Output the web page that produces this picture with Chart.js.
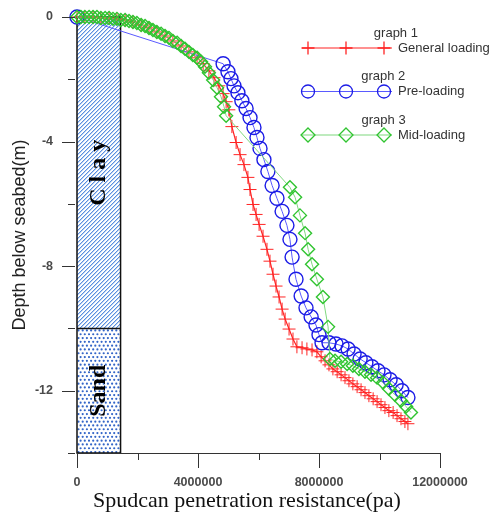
<!DOCTYPE html>
<html>
<head>
<meta charset="utf-8">
<script src="https://cdn.jsdelivr.net/npm/chart.js@4.4.0/dist/chart.umd.min.js"></script>
<style>
  html, body { margin: 0; padding: 0; background: #fff; }
  #wrap { position: relative; width: 493px; height: 512px; }
</style>
</head>
<body>
<div id="wrap"><canvas id="chart" width="493" height="512"></canvas></div>
<script>
// graph 1 - General loading (x: resistance in Pa, y: depth in m)
const generalX = [0, 260000, 530000, 790000, 1060000, 1320000, 1590000, 1850000, 2120000, 2380000,
  2640000, 2910000, 3170000, 3440000, 3700000, 3970000, 4170000, 4360000, 4530000, 4690000,
  4830000, 4930000, 5020000, 5120000, 5260000, 5390000, 5520000, 5650000, 5720000, 5820000,
  5920000, 6020000, 6150000, 6280000, 6380000, 6480000, 6580000, 6680000, 6780000, 6880000,
  7010000, 7140000, 7270000, 7440000, 7600000, 7770000, 7930000, 8070000, 8200000, 8330000,
  8460000, 8600000, 8730000, 8860000, 8990000, 9120000, 9260000, 9390000, 9520000, 9650000,
  9790000, 9920000, 10050000, 10180000, 10310000, 10450000, 10580000, 10710000, 10840000, 10940000];
const generalY = [0, 0, 0, -0.03, -0.03, -0.06, -0.10, -0.16, -0.26, -0.35,
  -0.48, -0.61, -0.77, -0.93, -1.12, -1.31, -1.50, -1.73, -1.95, -2.21,
  -2.46, -2.72, -2.98, -3.52, -4.03, -4.42, -4.74, -5.15, -5.54, -6.02,
  -6.34, -6.66, -7.04, -7.46, -7.84, -8.26, -8.64, -8.99, -9.38, -9.70,
  -10.02, -10.34, -10.59, -10.62, -10.66, -10.69, -10.75, -10.91, -11.04, -11.17,
  -11.30, -11.39, -11.49, -11.58, -11.68, -11.78, -11.87, -11.97, -12.06, -12.16,
  -12.26, -12.35, -12.45, -12.54, -12.64, -12.70, -12.80, -12.90, -12.99, -13.06];

// graph 2 - Pre-loading
const preX = [0, 4830000, 4990000, 5090000, 5190000, 5320000, 5450000, 5590000, 5720000, 5850000,
  5950000, 6050000, 6180000, 6310000, 6450000, 6610000, 6780000, 6940000, 7040000, 7110000,
  7240000, 7410000, 7570000, 7740000, 7900000, 8000000, 8100000, 8330000, 8560000, 8760000,
  8960000, 9160000, 9360000, 9550000, 9750000, 9950000, 10150000, 10350000, 10550000, 10740000, 10940000];
const preY = [0, -1.50, -1.76, -1.98, -2.21, -2.43, -2.69, -2.94, -3.23, -3.55,
  -3.87, -4.22, -4.58, -4.96, -5.41, -5.82, -6.24, -6.69, -7.14, -7.71,
  -8.42, -8.96, -9.34, -9.63, -9.89, -10.20, -10.46, -10.46, -10.50, -10.56,
  -10.66, -10.82, -10.98, -11.10, -11.23, -11.36, -11.49, -11.65, -11.81, -12.00, -12.22];

// graph 3 - Mid-loading
const midX = [0, 130000, 260000, 400000, 530000, 660000, 790000, 930000, 1060000, 1190000,
  1320000, 1450000, 1590000, 1720000, 1850000, 1980000, 2120000, 2250000, 2380000, 2510000,
  2640000, 2780000, 2910000, 3040000, 3170000, 3310000, 3440000, 3570000, 3700000, 3830000,
  3970000, 4100000, 4230000, 4360000, 4500000, 4630000, 4760000, 4860000, 4930000, 7040000,
  7210000, 7370000, 7540000, 7640000, 7770000, 7930000, 8130000, 8300000, 8360000, 8530000,
  8730000, 8930000, 9120000, 9320000, 9520000, 9720000, 9920000, 10120000, 10310000, 10510000,
  10710000, 10880000, 11040000];
const midY = [0, 0, 0, 0, 0, 0, -0.03, -0.03, -0.03, -0.06,
  -0.06, -0.10, -0.10, -0.13, -0.16, -0.19, -0.26, -0.29, -0.35, -0.42,
  -0.48, -0.54, -0.61, -0.67, -0.77, -0.83, -0.93, -1.02, -1.12, -1.22,
  -1.31, -1.44, -1.60, -1.79, -2.02, -2.27, -2.56, -2.88, -3.17, -5.47,
  -5.79, -6.37, -6.94, -7.46, -7.94, -8.42, -8.99, -9.95, -10.98, -11.04,
  -11.07, -11.14, -11.20, -11.30, -11.39, -11.49, -11.58, -11.74, -11.94, -12.13,
  -12.32, -12.51, -12.70];

// soil column
const soilWidth = 1440000;
const layerNames = ["C l a y", "Sand"];
const layerTop = [0, -10];
const layerBottom = [-10, -14];
const layerLabelDepth = [-5, -12];

// legend
const legendTitles = ["graph 1", "graph 2", "graph 3"];
const legendLabels = ["General loading", "Pre-loading", "Mid-loading"];

const RED = "#ff2424", BLUE = "#1c1ce6", GREEN = "#30c430";

const toPts = (xs, ys) => xs.map((v, i) => ({ x: v, y: ys[i] }));

function marker(ctx, style, x, y, r) {
  ctx.beginPath();
  if (style === "circle") {
    ctx.arc(x, y, r, 0, Math.PI * 2);
  } else if (style === "rectRot") {
    ctx.moveTo(x, y - r); ctx.lineTo(x + r, y); ctx.lineTo(x, y + r); ctx.lineTo(x - r, y); ctx.closePath();
  } else {
    ctx.moveTo(x - r, y); ctx.lineTo(x + r, y); ctx.moveTo(x, y - r); ctx.lineTo(x, y + r);
  }
  ctx.stroke();
}

// 4x4 tile with a soft "/" diagonal for the clay hatching
function hatchPattern(ctx) {
  const c = document.createElement("canvas");
  c.width = 4; c.height = 4;
  const g = c.getContext("2d");
  g.fillStyle = "#fff"; g.fillRect(0, 0, 4, 4);
  for (let i = 0; i < 4; i++) {
    g.fillStyle = "#5a8fe0"; g.fillRect(i, 3 - i, 1, 1);
    g.fillStyle = "#bcd2f2"; g.fillRect(i, (4 - i) % 4, 1, 1);
  }
  return ctx.createPattern(c, "repeat");
}

const soilPlugin = {
  id: "soil",
  beforeDatasetsDraw(chart) {
    const { ctx, scales: { x, y } } = chart;
    const l = x.getPixelForValue(0), r = x.getPixelForValue(soilWidth);
    ctx.save();
    // clay - hatched
    let t = y.getPixelForValue(layerTop[0]), b = y.getPixelForValue(layerBottom[0]);
    ctx.fillStyle = hatchPattern(ctx);
    ctx.fillRect(l, t, r - l, b - t);
    // sand - dotted
    t = y.getPixelForValue(layerTop[1]); b = y.getPixelForValue(layerBottom[1]);
    ctx.save();
    ctx.beginPath(); ctx.rect(l, t, r - l, b - t); ctx.clip();
    ctx.fillStyle = "#fff"; ctx.fillRect(l, t, r - l, b - t);
    ctx.fillStyle = "#3466c8";
    ctx.beginPath();
    let row = 0;
    for (let yy = t + 2; yy < b + 2; yy += 3.8, row++) {
      for (let xx = l + 1.5 + (row % 2) * 2.1; xx < r + 2; xx += 4.2) {
        ctx.moveTo(xx + 1.1, yy); ctx.arc(xx, yy, 1.1, 0, Math.PI * 2);
      }
    }
    ctx.fill();
    ctx.restore();
    // borders
    ctx.strokeStyle = "#111"; ctx.lineWidth = 1.5;
    const top = y.getPixelForValue(layerTop[0]), bot = y.getPixelForValue(layerBottom[1]);
    ctx.strokeRect(l, top, r - l, bot - top);
    ctx.beginPath();
    ctx.moveTo(l, y.getPixelForValue(layerTop[1])); ctx.lineTo(r, y.getPixelForValue(layerTop[1]));
    ctx.stroke();
    // layer names
    ctx.fillStyle = "#000";
    ctx.font = "bold 24px 'Liberation Serif', 'Times New Roman', serif";
    ctx.textAlign = "center"; ctx.textBaseline = "middle";
    layerNames.forEach((name, i) => {
      ctx.save();
      ctx.translate((l + r) / 2, y.getPixelForValue(layerLabelDepth[i]));
      ctx.rotate(-Math.PI / 2);
      ctx.fillText(name, 0, 0);
      ctx.restore();
    });
    ctx.restore();
  },
  afterDraw(chart) {
    const { ctx, chartArea: ca, scales: { x, y } } = chart;
    ctx.save();
    ctx.strokeStyle = "#333"; ctx.lineWidth = 1;
    // x axis line and ticks
    ctx.beginPath();
    ctx.moveTo(ca.left, ca.bottom + 0.5); ctx.lineTo(ca.right, ca.bottom + 0.5);
    x.ticks.forEach(tk => {
      const px = Math.round(x.getPixelForValue(tk.value)) + 0.5;
      const len = tk.value % 4000000 === 0 ? 15 : 7;
      ctx.moveTo(px, ca.bottom); ctx.lineTo(px, ca.bottom + len);
    });
    // y ticks
    y.ticks.forEach(tk => {
      const py = Math.round(y.getPixelForValue(tk.value)) + 0.5;
      const len = tk.value % 4 === 0 ? 13 : 7;
      ctx.moveTo(ca.left - 2, py); ctx.lineTo(ca.left - 2 - len, py);
    });
    ctx.stroke();

    // x title
    ctx.fillStyle = "#111";
    ctx.font = "22px 'Liberation Serif', 'Times New Roman', serif";
    ctx.textAlign = "center"; ctx.textBaseline = "alphabetic";
    ctx.fillText("Spudcan penetration resistance(pa)", 247, 507);

    // legend
    const styles = [
      { c: RED, line: RED, s: "cross", r: 6.5 },
      { c: BLUE, line: "#5a5aff", s: "circle", r: 6.5 },
      { c: GREEN, line: "#7fd87f", s: "rectRot", r: 7 }
    ];
    ctx.font = "13px 'Liberation Sans', Arial, sans-serif";
    legendTitles.forEach((title, i) => {
      const ly = 48 + i * 43.5;
      const st = styles[i];
      ctx.strokeStyle = st.line; ctx.lineWidth = 1.2;
      ctx.beginPath(); ctx.moveTo(302, ly); ctx.lineTo(392, ly); ctx.stroke();
      ctx.strokeStyle = st.c; ctx.lineWidth = 1.3;
      [308, 346, 384].forEach(mx => marker(ctx, st.s, mx, ly, st.r));
      ctx.fillStyle = "#333";
      ctx.textAlign = "left"; ctx.textBaseline = "middle";
      ctx.fillText(legendLabels[i], 398, ly);
      const end = 398 + ctx.measureText(legendLabels[i]).width;
      ctx.textAlign = "center";
      ctx.fillText(title, (302 + end) / 2, ly - 15);
    });
    ctx.restore();
  }
};

const ctx = document.getElementById("chart").getContext("2d");
new Chart(ctx, {
  type: "scatter",
  data: {
    datasets: [
      {
        label: "General loading", data: toPts(generalX, generalY), showLine: true, order: 3, clip: false,
        borderColor: RED, borderWidth: 1.2, pointStyle: "cross", pointRadius: 6.5,
        pointBorderColor: RED, pointBorderWidth: 1, pointBackgroundColor: "transparent"
      },
      {
        label: "Pre-loading", data: toPts(preX, preY), showLine: true, order: 2, clip: false,
        borderColor: "#5a5aff", borderWidth: 1, pointStyle: "circle", pointRadius: 7,
        pointBorderColor: BLUE, pointBorderWidth: 1.4, pointBackgroundColor: "transparent"
      },
      {
        label: "Mid-loading", data: toPts(midX, midY), showLine: true, order: 1, clip: false,
        borderColor: "#7fd87f", borderWidth: 1, pointStyle: "rectRot", pointRadius: 6.5,
        pointBorderColor: GREEN, pointBorderWidth: 1.4, pointBackgroundColor: "transparent"
      }
    ]
  },
  options: {
    responsive: false,
    animation: false,
    devicePixelRatio: 1,
    layout: { padding: { top: 17, right: 53, left: 0, bottom: 0 } },
    plugins: { legend: { display: false }, tooltip: { enabled: false } },
    elements: { line: { tension: 0 } },
    scales: {
      x: {
        type: "linear", min: 0, max: 12000000,
        afterFit: s => { s.height = 59; },
        border: { display: false },
        grid: { drawOnChartArea: false, drawTicks: true, tickLength: 15, color: "transparent", tickColor: "transparent" },
        ticks: {
          stepSize: 2000000, autoSkip: false, maxRotation: 0, padding: 7, color: "#4a4a4a",
          font: { family: "'Liberation Sans', Arial, sans-serif", size: 12.5, weight: "bold" },
          callback: v => (v % 4000000 === 0 ? String(v) : "")
        }
      },
      y: {
        type: "linear", min: -14, max: 0,
        afterFit: s => { s.width = 77; },
        border: { display: false },
        grid: { drawOnChartArea: false, drawTicks: true, tickLength: 15, color: "transparent", tickColor: "transparent" },
        ticks: {
          stepSize: 2, autoSkip: false, padding: 9, color: "#4a4a4a",
          font: { family: "'Liberation Sans', Arial, sans-serif", size: 12.5, weight: "bold" },
          callback: v => (v % 4 === 0 ? String(v) : "")
        },
        title: {
          display: true, text: "Depth below seabed(m)", color: "#222",
          font: { family: "'Liberation Sans', Arial, sans-serif", size: 18 },
          padding: { top: 9, bottom: 0 }
        }
      }
    }
  },
  plugins: [soilPlugin]
});
</script>
</body>
</html>
